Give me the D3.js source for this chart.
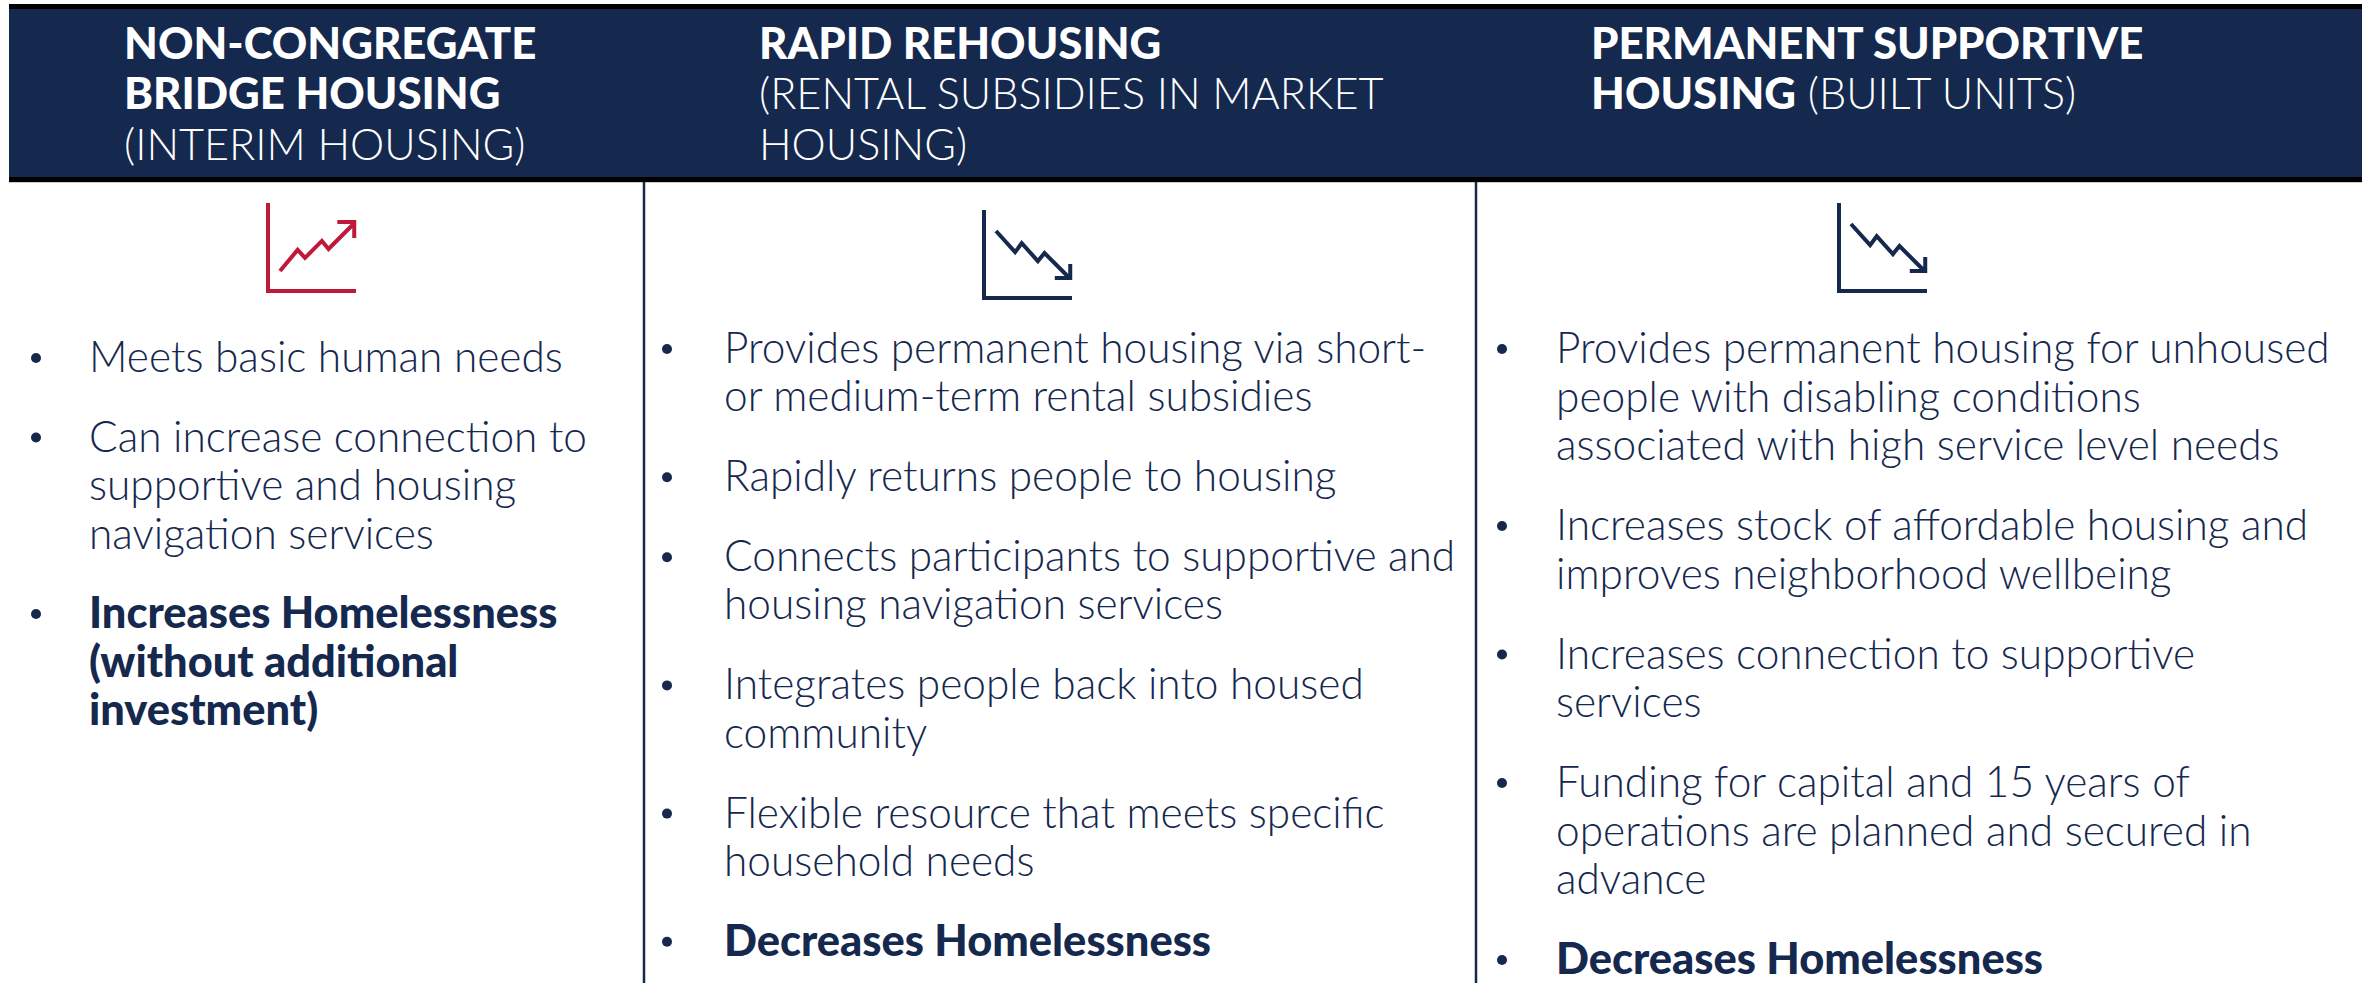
<!DOCTYPE html>
<html>
<head>
<meta charset="utf-8">
<script src="https://cdn.jsdelivr.net/npm/d3@7"></script>
<style>
	html, body { margin: 0; padding: 0; background: #fff; }
	svg { display: block; }
	text { font-family: Lato, sans-serif; }
	.head { fill: #fff; }
	.body { fill: #15284e; }
</style>
</head>
<body>
<svg id="chart" width="2362" height="983"></svg>
<script>
var navy = '#15284e', red = '#c0183a';

// [text, bold]
var headerOne = [['NON-CONGREGATE', 1], ['BRIDGE HOUSING', 1], ['(INTERIM HOUSING)', 0]];
var headerTwo = [['RAPID REHOUSING', 1], ['(RENTAL SUBSIDIES IN MARKET', 0], ['HOUSING)', 0]];
var headerThree = [['PERMANENT SUPPORTIVE', 1], [['HOUSING', 1], [' (BUILT UNITS)', 0]]];

var bulletsOne = [
	['Meets basic human needs'],
	['Can increase connection to', 'supportive and housing', 'navigation services']
];
var boldOne = ['Increases Homelessness', '(without additional', 'investment)'];

var bulletsTwo = [
	['Provides permanent housing via short-', 'or medium-term rental subsidies'],
	['Rapidly returns people to housing'],
	['Connects participants to supportive and', 'housing navigation services'],
	['Integrates people back into housed', 'community'],
	['Flexible resource that meets specific', 'household needs']
];
var boldTwo = ['Decreases Homelessness'];

var bulletsThree = [
	['Provides permanent housing for unhoused', 'people with disabling conditions', 'associated with high service level needs'],
	['Increases stock of affordable housing and', 'improves neighborhood wellbeing'],
	['Increases connection to supportive', 'services'],
	['Funding for capital and 15 years of', 'operations are planned and secured in', 'advance']
];
var boldThree = ['Decreases Homelessness'];

// icon trend shapes on a 0-100 grid
var trendUp = [[0, 0], [24, 45], [34, 28], [57, 64], [66, 47], [100, 100]];
var arrowUp = [[78, 104], [101, 104], [101, 70]];
var trendDown = [[0, 100], [26, 55], [35, 74], [57, 36], [66, 53], [100, 0]];
var arrowDown = [[80, 0], [101, 0], [101, 30]];

var svg = d3.select('#chart');

function drawHeader() {
	svg.append('rect').attr('x', 9).attr('y', 4).attr('width', 2353).attr('height', 178).attr('fill', '#000');
	svg.append('rect').attr('x', 9).attr('y', 9).attr('width', 2353).attr('height', 168).attr('fill', navy);
	svg.append('line').attr('x1', 9).attr('x2', 2362).attr('y1', 182.5).attr('y2', 182.5).attr('stroke', '#ccc').attr('stroke-width', 1);

	function headerBlock(lines, x) {
		lines.forEach(function (line, i) {
			var parts = Array.isArray(line[0]) ? line : [line];
			var text = svg.append('text').attr('class', 'head').attr('x', x).attr('y', 58.5 + i * 50.5);
			parts.forEach(function (part) {
				text.append('tspan')
					.attr('font-weight', part[1] ? 900 : 300)
					.attr('font-size', part[1] ? 43.8 : 43.2)
					.attr('xml:space', 'preserve')
					.text(part[0]);
			});
		});
	}

	headerBlock(headerOne, 124);
	headerBlock(headerTwo, 759);
	headerBlock(headerThree, 1591);
}

function drawDividers() {
	[644, 1476].forEach(function (x) {
		svg.append('line').attr('x1', x).attr('x2', x).attr('y1', 182).attr('y2', 983)
			.attr('stroke', navy).attr('stroke-width', 2.5);
	});
}

function drawIcon(x0, y0, trend, arrow, color) {
	var sx = d3.scaleLinear().domain([0, 100]).range([x0 + 12, x0 + 85.5]);
	var sy = d3.scaleLinear().domain([0, 100]).range([y0 + 68, y0 + 21]);
	var line = d3.line().x(function (d) { return sx(d[0]); }).y(function (d) { return sy(d[1]); });
	var g = svg.append('g').attr('fill', 'none').attr('stroke', color).attr('stroke-width', 4);
	g.append('path').attr('d', 'M' + x0 + ',' + y0 + 'V' + (y0 + 88) + 'H' + (x0 + 88));
	g.append('path').attr('d', line(trend));
	g.append('path').attr('d', line(arrow));
}

function drawColumn(bullets, bold, xBullet, xText, yStart, step, gap) {
	var y = yStart;

	function para(lines, isBold) {
		svg.append('circle').attr('cx', xBullet).attr('cy', y - 14).attr('r', 5).attr('fill', navy);
		lines.forEach(function (line, i) {
			svg.append('text').attr('class', 'body').attr('x', xText).attr('y', y + i * step)
				.attr('font-weight', isBold ? 900 : 300)
				.attr('font-size', isBold ? 43.4 : 42.4)
				.text(line);
		});
		y += (lines.length - 1) * step + gap;
	}

	bullets.forEach(function (lines) { para(lines, false); });
	para(bold, true);
}

drawHeader();
drawDividers();
drawIcon(268, 203, trendUp, arrowUp, red);
drawIcon(984, 210, trendDown, arrowDown, navy);
drawIcon(1839, 203, trendDown, arrowDown, navy);
drawColumn(bulletsOne, boldOne, 36, 89, 372, 48.5, 79.5);
drawColumn(bulletsTwo, boldTwo, 667, 724, 363, 48.2, 80);
drawColumn(bulletsThree, boldThree, 1502, 1556, 363, 48.5, 80);
</script>
</body>
</html>
